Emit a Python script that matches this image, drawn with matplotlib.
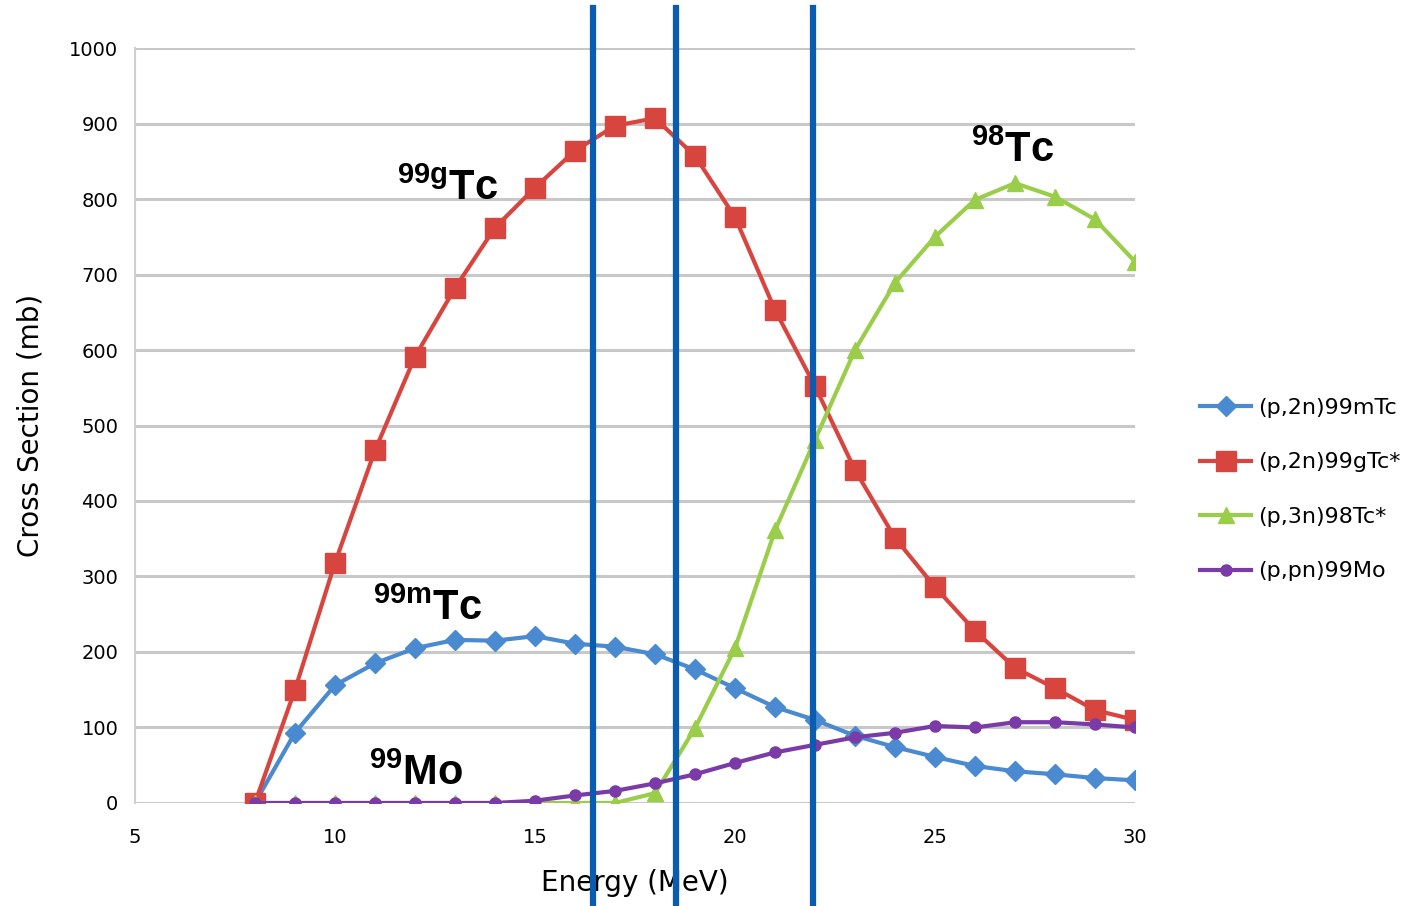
import matplotlib
matplotlib.use("Agg")
import matplotlib.pyplot as plt

energy = list(range(8, 31))
tc99m = [0, 93, 156, 185, 205, 216, 215, 221, 211, 207, 197, 177, 152, 127, 110,
         89, 74, 61, 49, 42, 38, 33, 30]
tc99g = [0, 150, 318, 467, 591, 682, 762, 815, 864, 897, 907, 857, 776, 653, 552,
         441, 351, 286, 228, 179, 152, 123, 110]
tc98 = [0, 0, 0, 0, 0, 0, 0, 0, 0, 0, 13, 99, 205, 361, 481,
        600, 689, 750, 799, 821, 803, 773, 717]
mo99 = [0, 0, 0, 0, 0, 0, 0, 3, 10, 16, 26, 38, 53, 67, 77,
        87, 93, 102, 100, 107, 107, 104, 100]
labels = ["(p,2n)99mTc", "(p,2n)99gTc*", "(p,3n)98Tc*", "(p,pn)99Mo"]
cut_energies = [16.45, 18.52, 21.95]

plt.rcParams['mathtext.fontset'] = 'custom'
plt.rcParams['mathtext.rm'] = 'Liberation Sans:bold'
plt.rcParams['mathtext.bf'] = 'Liberation Sans:bold'
plt.rcParams['mathtext.it'] = 'Liberation Sans:bold'

fig = plt.figure(figsize=(14.22, 9.06), dpi=100)
ax = fig.add_axes([0.0949, 0.1137, 0.7033, 0.8333])

ax.plot(energy, tc99m, color='#4a8ad0', lw=3, marker='D', ms=10, label=labels[0])
ax.plot(energy, tc99g, color='#d8453f', lw=3, marker='s', ms=14, label=labels[1])
ax.plot(energy, tc98, color='#9acd4a', lw=3, marker='^', ms=12, label=labels[2])
ax.plot(energy, mo99, color='#7a3aa8', lw=3, marker='o', ms=8, label=labels[3])

for e in cut_energies:
    ax.axvline(e, ymin=-0.136, ymax=1.053, color='#0a5cb0', lw=4.5, clip_on=False, zorder=5)

ax.set_xlim(5, 30)
ax.set_ylim(0, 1000)
ax.set_xticks(range(5, 31, 5))
ax.set_yticks(range(0, 1001, 100))
ax.grid(axis='y', color='#c8c8c8', lw=2.2)
ax.set_axisbelow(True)
for s in ['top', 'right', 'bottom']:
    ax.spines[s].set_visible(False)
ax.spines['left'].set_color('#d0d0d0')
ax.spines['left'].set_linewidth(1.5)
ax.tick_params(axis='y', length=0, labelsize=14, pad=12)
ax.tick_params(axis='x', length=0, labelsize=14, pad=18)

ax.set_xlabel('Energy (MeV)', fontsize=20, labelpad=16)
ax.set_ylabel('Cross Section (mb)', fontsize=20, labelpad=18)

kw = dict(fontsize=30, fontweight='bold', family='Liberation Sans', color='black')
ax.text(11.55, 799, r'$^{99\mathrm{g}}$Tc', **kw)
ax.text(10.95, 242, r'$^{99\mathrm{m}}$Tc', **kw)
ax.text(10.85, 24, r'$^{99}$Mo', **kw)
ax.text(25.9, 849, r'$^{98}$Tc', **kw)

ax.legend(loc='center left', bbox_to_anchor=(1.045, 0.415), frameon=False, fontsize=16,
          handlelength=2.3, labelspacing=1.55, handletextpad=0.3)

fig.savefig('out.png', dpi=100)
